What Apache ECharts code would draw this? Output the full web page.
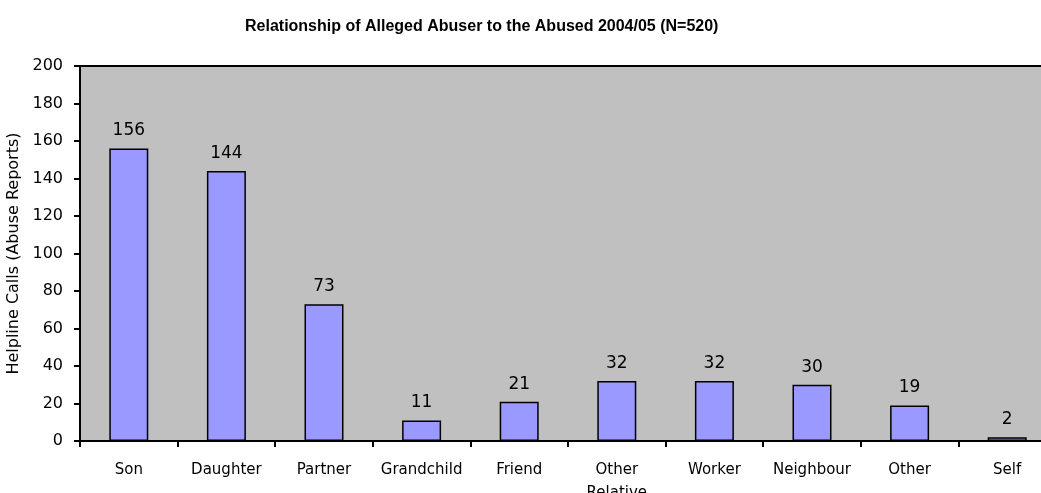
<!DOCTYPE html>
<html><head><meta charset="utf-8">
<script src="https://cdn.jsdelivr.net/npm/echarts@6/dist/echarts.min.js"></script>
<style>html,body{margin:0;padding:0;background:#fff}#c{width:1041px;height:493px}</style>
</head><body><div id="c"></div>
<script>
var categories = ["Son","Daughter","Partner","Grandchild","Friend","Other\nRelative","Worker","Neighbour","Other","Self"];
var values = [156,144,73,11,21,32,32,30,19,2];
var yTicks = [0,20,40,60,80,100,120,140,160,180,200];
var chartTitle = "Relationship of Alleged Abuser to the Abused 2004/05 (N=520)";
var yName = "Helpline Calls (Abuse Reports)";

var ff = "'DejaVu Sans', sans-serif";
var ffTitle = "'Liberation Sans', Arial, sans-serif";
var chart = echarts.init(document.getElementById('c'), null, {renderer:'canvas'});
chart.setOption({
  animation:false,
  backgroundColor:'#ffffff',
  title:{text:chartTitle,left:240,top:14,textStyle:{fontFamily:ffTitle,fontSize:16,fontWeight:'bold',color:'#000'}},
  grid:{left:80,top:66,width:976,height:375,containLabel:false,outerBoundsMode:'none',show:true,backgroundColor:'#C0C0C0',borderColor:'#000',borderWidth:2},
  xAxis:{type:'category',data:categories,
    axisLine:{lineStyle:{color:'#000',width:2}},
    axisTick:{show:true,alignWithLabel:false,length:6,lineStyle:{color:'#000',width:2}},
    axisLabel:{fontFamily:ff,fontSize:15,color:'#000',margin:18,interval:0,lineHeight:23}},
  yAxis:{type:'value',min:yTicks[0],max:yTicks[yTicks.length-1],interval:20,
    name:yName,nameLocation:'middle',nameGap:52,nameRotate:90,
    nameTextStyle:{fontFamily:ff,fontSize:16,color:'#000'},
    axisLine:{show:true,lineStyle:{color:'#000',width:2}},
    axisTick:{show:true,length:6,lineStyle:{color:'#000',width:2}},
    axisLabel:{fontFamily:ff,fontSize:16,color:'#000',margin:17},
    splitLine:{show:false}},
  series:[{type:'bar',data:values,barWidth:39,
    itemStyle:{color:'#9999FF',borderColor:'#000',borderWidth:1.5},
    label:{show:true,position:'top',distance:9,fontFamily:ff,fontSize:17,color:'#000'}}]
});
</script></body></html>
